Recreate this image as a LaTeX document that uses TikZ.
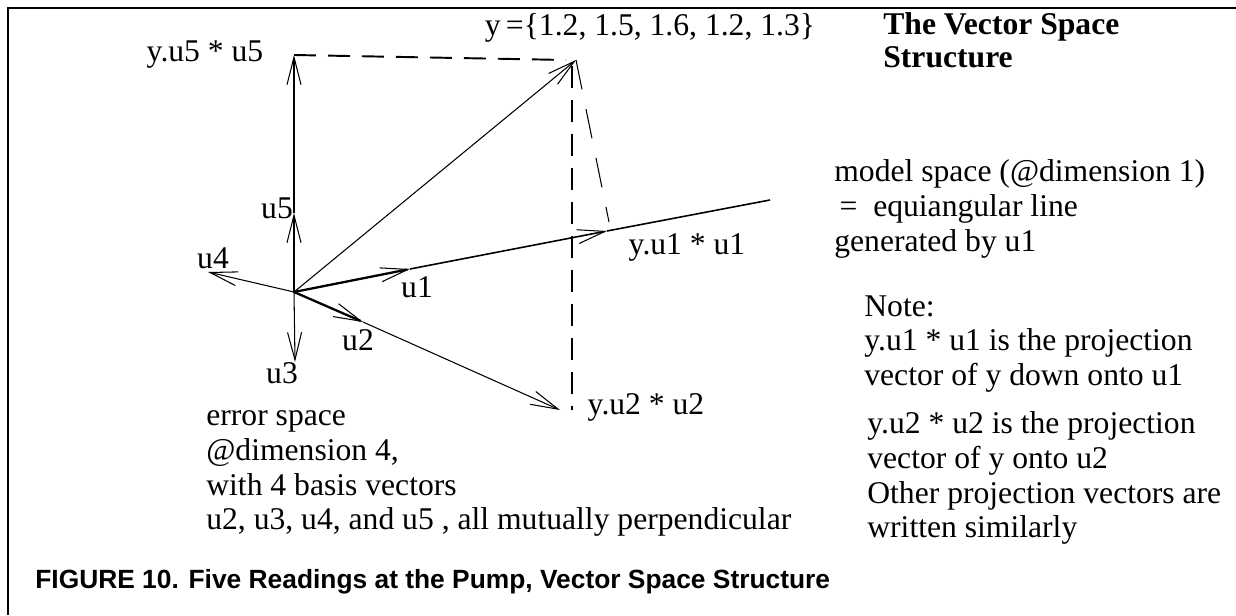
\documentclass[tikz,border=0pt]{standalone}
\usepackage{fontspec}
\setmainfont{Liberation Serif}
\newfontfamily\capfont{Liberation Sans}
\usetikzlibrary{arrows.meta}
\tikzset{
  >={Straight Barb[length=0.55cm,width=0.28cm,line width=0.6pt]},
  vec/.style={->,draw=black,line width=0.6pt},
  heavyvec/.style={->,draw=black,line width=1.3pt},
  dashline/.style={draw=black,line width=1.1pt,dash pattern=on 0.44cm off 0.24cm},
  thindash/.style={draw=black,line width=0.6pt,dash pattern=on 0.6cm off 0.4cm},
  lbl/.style={inner sep=0pt,font=\fontsize{18}{19.85}\selectfont},
  blk/.style={lbl,align=left,anchor=north west},
}

\begin{document}
\begin{tikzpicture}[x=0.02cm,y=-0.02cm]
  \useasboundingbox (0,0) rectangle (1236,615);
  % frame
  \draw[line width=1.2pt] (8,615) -- (8,8) -- (1236,8);

  % points of the vector space
  \coordinate (o) at (294,292);
  \coordinate (yv) at (576,60);
  \coordinate (p5) at (294,55);
  \coordinate (u5) at (294,213);
  \coordinate (u4) at (208,272);
  \coordinate (u3) at (295,362);
  \coordinate (u1) at (410,269);
  \coordinate (p1) at (607,231);
  \coordinate (lend) at (770,200);
  \coordinate (u2) at (363,322);
  \coordinate (p2) at (560,410);

  % model line and the basis vectors
  \draw[line width=0.9pt] (p1) -- (lend);
  \draw[heavyvec] (o) -- (u1);
  \draw[vec,line width=0.9pt] (u1) -- (p1);
  \draw[heavyvec] (o) -- (u5);
  \draw[vec,line width=1.3pt] (u5) -- (p5);
  \draw[vec] (o) -- (yv);
  \draw[vec] (o) -- (u4);
  \draw[vec] (o) -- (u3);
  \draw[heavyvec] (o) -- (u2);
  \draw[vec] (u2) -- (p2);

  % projections
  \draw[dashline] (p5) -- (yv -| 566,0);
  \draw[dashline] (572,66) -- (572,410);
  \draw[thindash] (yv) -- (609,222);

  % labels
  \node[lbl] (ly) at (650,28) {y\,=\{1.2, 1.5, 1.6, 1.2, 1.3\}};
  \node[lbl] (ly5) at (205,55) {y.u5 * u5};
  \node[lbl] (l5) at (277,208) {u5};
  \node[lbl] (l4) at (213,258) {u4};
  \node[lbl] (l1) at (417,287) {u1};
  \node[lbl] (l2) at (358,340) {u2};
  \node[lbl] (l3) at (282,373) {u3};
  \node[lbl] (ly1) at (687,247) {y.u1 * u1};
  \node[lbl] (ly2) at (646,407) {y.u2 * u2};

  \node[blk,font=\fontsize{18}{19}\selectfont\bfseries] (title) at (883,12)
    {The Vector Space\\Structure};
  \node[blk] (model) at (834,159)
    {model space (@dimension 1)\\\hspace*{3pt}=\ \ equiangular line\\generated by u1};
  \node[blk] (note) at (864,295)
    {Note:\\y.u1 * u1 is the projection\\vector of y down onto u1};
  \node[blk] (note2) at (867,411)
    {y.u2 * u2 is the projection\\vector of y onto u2\\Other projection vectors are\\written similarly};
  \node[blk] (err) at (206,410)
    {error space\\@dimension 4,\\with 4 basis vectors\\u2, u3, u4, and u5 , all mutually perpendicular};

  \node[inner sep=0pt,anchor=west,font=\capfont\bfseries\fontsize{15}{17}\selectfont] (cap) at (35,582)
    {FIGURE 10. Five Readings at the Pump, Vector Space Structure};
\end{tikzpicture}
\end{document}
